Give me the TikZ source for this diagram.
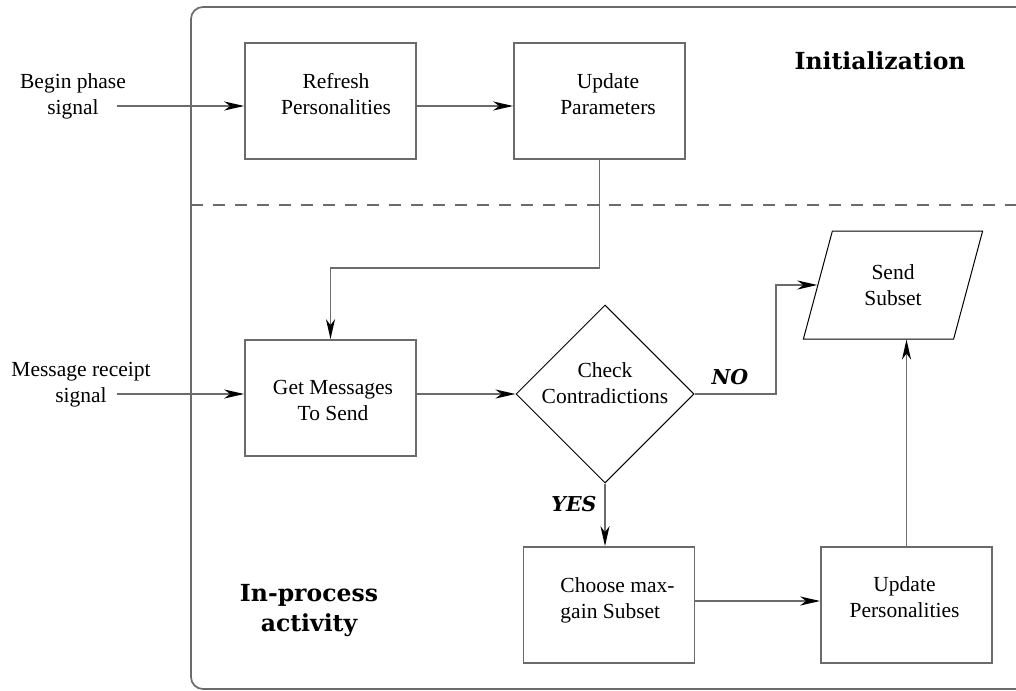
\documentclass[tikz,border=0pt]{standalone}
\usepackage{fontspec}
\setmainfont{Liberation Serif}
\newfontfamily\headfont{DejaVu Serif}
\usetikzlibrary{shapes.geometric, arrows.meta, positioning, calc}

\definecolor{linegray}{rgb}{0.42,0.42,0.42}

\begin{document}
\begin{tikzpicture}[x=0.5pt, y=-0.5pt,
  font=\fontsize{10.75}{13}\selectfont,
  box/.style={draw=linegray, line width=0.85pt, minimum width=85.5pt, minimum height=58pt, inner sep=0pt},
  boxtxt/.style={align=center},
  decision/.style={diamond, draw, line width=0.5pt, aspect=1, minimum width=89pt, minimum height=89pt, inner sep=0pt},
  io/.style={trapezium, trapezium left angle=71.57, trapezium right angle=108.43, trapezium stretches=true,
             draw, line width=0.5pt, minimum width=90pt, minimum height=54pt, inner sep=0pt, align=center},
  arrow/.style={draw=linegray, line width=0.85pt, -{Stealth[length=10pt, width=4.5pt, inset=3pt, color=black]}},
  head/.style={font=\headfont\bfseries\fontsize{11.75}{15}\selectfont, align=center},
  answer/.style={font=\headfont\bfseries\itshape\fontsize{10.25}{12}\selectfont}
]
\useasboundingbox (0,0) rectangle (1016,690);

% frame and phase border
\draw[linegray, line width=0.85pt, rounded corners=6pt] (1016,7) -- (191,7) -- (191,689) -- (1016,689);
\draw[linegray, line width=0.85pt, dash pattern=on 6pt off 5pt] (191,205) -- (1016,205);

\node[head] (init) at (880,61) {Initialization};
\node[head] (inproc) at (309,611) {In-process\\activity};

% inputs
\node[align=center] (beginsig) at (73,96) {Begin phase\\signal};
\node[align=center] (msgsig) at (81,385) {Message receipt\\signal};
\coordinate (beginend) at (117,106);
\coordinate (msgend) at (117,394);

% blocks
\node[box, label={[boxtxt, xshift=2.75pt, yshift=3.65pt]center:Refresh\\Personalities}] (refresh) at (330.5,101) {};
\node[box, label={[boxtxt, xshift=4.25pt, yshift=3.25pt]center:Update\\Parameters}] (upd) at (599.5,101) {};
\node[box, label={[boxtxt, xshift=1.25pt, yshift=-1.2pt]center:Get Messages\\To Send}] (get) at (330.5,398) {};
\node[decision, label={[boxtxt, yshift=5.25pt]center:Check\\Contradictions}] (chk) at (605,394) {};
\node[io] (send) at (893,285) {Send\\Subset};
\node[box, label={[align=left, xshift=4.25pt, yshift=2.5pt]center:Choose max-\\gain Subset}] (choose) at (609,605) {};
\node[box, label={[boxtxt, xshift=-1pt, yshift=3.75pt]center:Update\\Personalities}] (updpers) at (906.5,605) {};

\node[answer] (no) at (730,377) {NO};
\node[answer] (yes) at (574,504.5) {YES};

% connectors
\coordinate (paramsbend) at (400,268);
\coordinate (nobend) at (776,394);
\draw[arrow] (beginend) -- (beginend -| refresh.west);
\draw[arrow] (refresh.east |- beginend) -- (upd.west |- beginend);
\draw[arrow] (upd.south) |- (paramsbend) -| (get.north);
\draw[arrow] (msgend) -- (msgend -| get.west);
\draw[arrow] (get.east |- chk) -- (chk.west);
\draw[arrow] (chk.east) -- (nobend) |- (send.west);
\draw[arrow] (chk.south) -- (chk.south |- choose.north);
\draw[arrow] ([yshift=2pt]choose.east) -- ([yshift=2pt]choose.east -| updpers.west);
\draw[arrow] (updpers.north) -- (updpers.north |- send.south);
\end{tikzpicture}
\end{document}
